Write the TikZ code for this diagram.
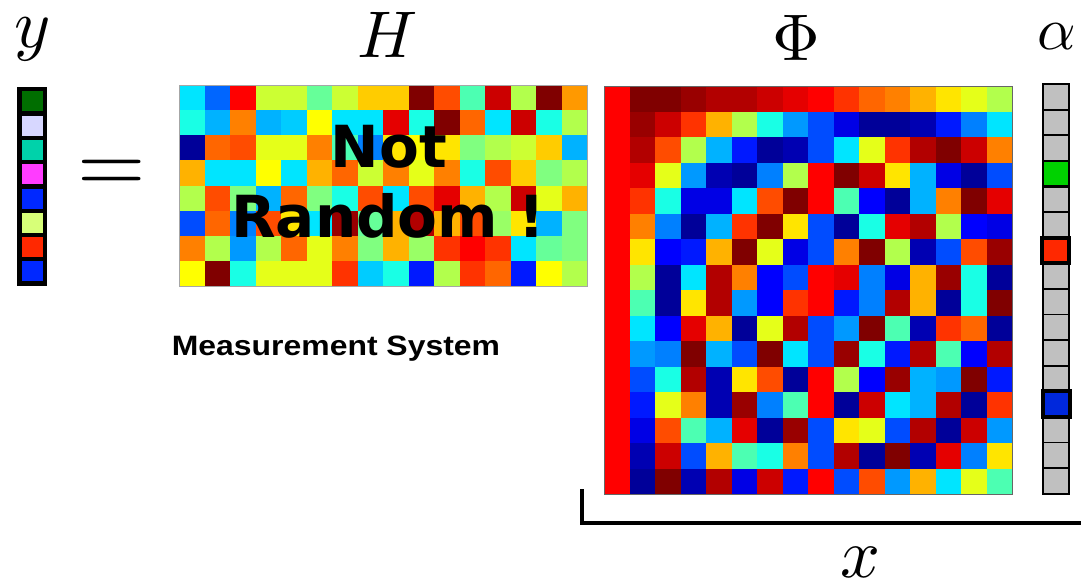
\documentclass[tikz,border=0pt]{standalone}
\usepackage[no-math]{fontspec}
\newfontfamily\djsans{DejaVu Sans}
\newfontfamily\libsans{Liberation Sans}
\definecolor{alphagray}{RGB}{192,192,192}
\definecolor{ya}{RGB}{0,110,0}
\definecolor{yb}{RGB}{215,215,255}
\definecolor{yc}{RGB}{0,210,170}
\definecolor{yd}{RGB}{255,60,255}
\definecolor{ye}{RGB}{0,40,255}
\definecolor{yf}{RGB}{215,255,120}
\definecolor{yg}{RGB}{255,40,0}
\definecolor{yh}{RGB}{0,40,255}
\definecolor{agreen}{RGB}{0,210,0}
\definecolor{ared}{RGB}{255,40,0}
\definecolor{ablue}{RGB}{0,40,220}
\newcommand\jetfill[5]{%
  \pgfmathsetmacro\jv{#1/20}%
  \pgfmathsetmacro\jr{max(0,min(1,1.5-abs(4*\jv-3)))}%
  \pgfmathsetmacro\jg{max(0,min(1,1.5-abs(4*\jv-2)))}%
  \pgfmathsetmacro\jb{max(0,min(1,1.5-abs(4*\jv-1)))}%
  \definecolor{jc}{rgb}{\jr,\jg,\jb}%
  \pgfmathsetmacro\jx{#2}\pgfmathsetmacro\jy{#3}%
  \fill[jc] (\jx,\jy) rectangle ++(#4+0.4,#5+0.4);%
}
\tikzset{
  mathlab/.style={inner sep=0pt, anchor=base, font=\fontsize{10}{12}\selectfont},
  graycell/.style={draw=black, fill=alphagray, line width=1.8pt},
  hicell/.style={draw=black, line width=4pt},
}
\begin{document}
\begin{tikzpicture}[x=1pt,y=-1pt]
\useasboundingbox (0,0) rectangle (1081,578);
\fill[white] (0,0) rectangle (1081,578);

% ---- y vector
\fill[black] (17,87) rectangle (47,286);
\foreach \c [count=\k from 0] in {ya,yb,yc,yd,ye,yf,yg,yh}
  \fill[\c] (22,{91.3+24.3*\k}) rectangle ++(21,20);

% ---- H matrix
\foreach \row [count=\i from 0] in {
 {7,4.5,17.5,11.5,11.5,9.5,11.5,13.5,13.5,20,16,9,18.5,11,20,14.5},
 {8,6,15,6,6.5,12.5,7,7,18,8,20,15.5,7,18.5,8,11},
 {0.5,15.5,16,12,12,15,9,5,13,12.5,13,10,11,11.5,13.5,6},
 {14,7,7,12.5,7,14,15.5,11.5,15,12,15,8,16,13.5,10,11},
 {11,16,10,6,15.5,10,8,16,7,16,18,14,11,18.5,12,14},
 {4,15.5,5,16,13,7,19.5,9.5,14,19,14,16,10.5,13,6,10},
 {15,11,5.5,11,15.5,12,15,10,14,10.5,16.5,17.5,16.5,7,9.5,10},
 {12.5,20,8,12,12,12,16.5,6.5,8,3,11,16.5,15.5,3,12.5,11}}{
  \foreach \c [count=\j from 0] in \row {
    \jetfill{\c}{179+25.5*\j}{85+25.125*\i}{25.5}{25.125}
  }
}
\draw[black!35, line width=1pt] (179,85) rectangle (587,286);

% ---- Phi matrix
\foreach \row [count=\i from 0] in {
 {17.5,20,20,19.5,19,19,18.5,18,17.5,16.5,15.5,15,14,13,12,11},
 {17.5,19.5,18.5,16.5,14,11,8,5.5,4,2,0.5,0.5,1,3,5,7},
 {17.5,19,16,11,6,3,0.5,1,4,7,12,16.5,19,20,18.5,15},
 {17.5,18,12,5.5,1,0.5,5,11,17.5,20,18.5,13,6,2,0.5,4},
 {17.5,16.5,8,2,2,7,16,20,17.5,9,2.5,0.5,6,15,20,18},
 {17.5,15,5,0.5,6,16.5,20,13,4,0.5,8,18,19,11,2.5,2},
 {17.5,13,2.5,3,14,20,12,2,4,15,20,11,1,4,16,19.5},
 {17.5,11,0.5,7,19,15,2.5,4,17.5,18,5,2,14,19.5,8,0.5},
 {17.5,9,0.5,13,19,5.5,2.5,16.5,17.5,3,5,19,14,0.5,8,20},
 {17.5,7,2.5,18,14,0.5,12,19,4,5.5,20,9,1,16.5,15.5,0.5},
 {17.5,5.5,5,20,6,4,20,7,4,19.5,8,3,19,9,2.5,19},
 {17.5,4,8,19,1,13,16,0.5,17.5,11,2.5,19.5,6,5.5,20,3},
 {17.5,3,12,15,1,19.5,5,9,17.5,0.5,18.5,7,6,19,0.5,16.5},
 {17.5,2,16,9,6,18,0.5,19.5,4,13,12,4,19,0.5,18.5,5.5},
 {17.5,1,18.5,4,14,9,8,15,4,19,0.5,20,1,18,5,13},
 {17.5,0.5,20,1,19,2,18.5,3,17.5,4,16,5.5,14,7,12,9}}{
  \foreach \c [count=\j from 0] in \row {
    \jetfill{\c}{604+25.5*\j}{86+25.5*\i}{25.5}{25.5}
  }
}
\draw[black!60, line width=1pt] (604,86) rectangle (1012,494);

% ---- alpha vector
\foreach \k in {0,...,15}
  \draw[graycell] (1043,{84+25.6*\k}) rectangle ++(26,25.6);
\draw[graycell, fill=agreen, line width=2.4pt] (1043,{84+25.6*3}) rectangle ++(26,25.6);
\draw[hicell, fill=ared] (1042,{84+25.6*6}) rectangle ++(27,25.6);
\draw[hicell, fill=ablue] (1043,{84+25.6*12}) rectangle ++(27,25.6);

% ---- labels
\node[mathlab, scale=6.9] (ylab) at (33,48) {$y$};
\node[mathlab, scale=8.8] (eq) at (112,192) {$=$};
\node[mathlab, scale=6.6] (hlab) at (388,57) {$H$};
\node[mathlab, scale=6.6] (philab) at (796,60) {$\Phi$};
\node[mathlab, anchor=base west, scale=6.0] (alab) at (1036,50) {$\alpha$};
\node[mathlab, scale=7.0] (xlab) at (860,577) {$x$};

\node[inner sep=0pt, anchor=base, font=\djsans\bfseries\fontsize{58}{64}\selectfont] (notA) at (389,167) {Not};
\node[inner sep=0pt, anchor=base, font=\djsans\bfseries\fontsize{58}{64}\selectfont] (notB) at (388,237) {Random !};
\node[inner sep=0pt, anchor=base, xscale=1.14, font=\libsans\bfseries\fontsize{28}{32}\selectfont] (meas) at (336,355) {Measurement System};

% ---- bracket under Phi and alpha
\coordinate (brA) at (582,489);
\coordinate (brB) at (582,523);
\coordinate (brC) at (1090,523);
\draw[line width=4pt, line join=miter] (brA) -- (brB) -- (brC);
\end{tikzpicture}
\end{document}
